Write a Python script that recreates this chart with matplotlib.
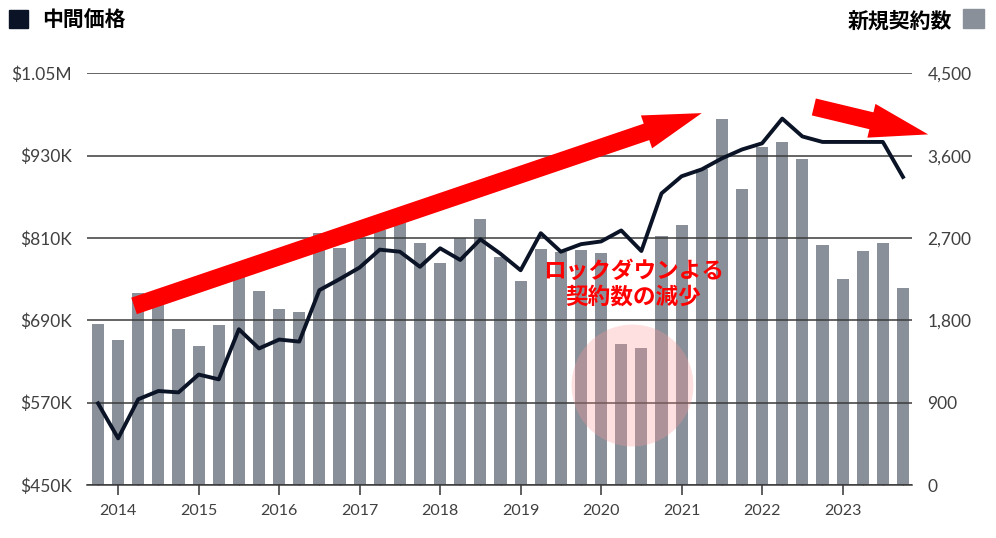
import matplotlib
matplotlib.use("Agg")
import matplotlib.pyplot as plt
from matplotlib.patches import Rectangle

# ── Data (quarterly, 2013Q4 .. 2023Q4) ───────────────────────────────────────
quarters = ["2013Q4"] + [f"{y}Q{q}" for y in range(2014, 2024) for q in range(1, 5)]

contracts = [1760, 1580, 2095, 2050, 1705, 1520, 1745, 2280, 2120, 1920,
             1895, 2755, 2595, 2700, 2790, 2860, 2645, 2430, 2705, 2910,
             2495, 2230, 2575, 2550, 2565, 2540, 1540, 1495, 2720, 2845,
             3450, 4005, 3235, 3690, 3745, 3560, 2620, 2250, 2555, 2645,
             2150]

median_price = [569, 518, 575, 587, 585, 611, 604, 677, 649, 662,
                659, 734, 750, 767, 793, 790, 768, 795, 778, 808,
                787, 763, 817, 790, 801, 805, 821, 791, 875, 900,
                910, 926, 939, 948, 984, 958, 950, 950, 950, 950,
                899]  # thousands of dollars

year_labels = [str(y) for y in range(2014, 2024)]
price_ticks = [450, 570, 690, 810, 930, 1050]
price_tick_labels = ["$450K", "$570K", "$690K", "$810K", "$930K", "$1.05M"]
count_ticks = [0, 900, 1800, 2700, 3600, 4500]
count_tick_labels = ["0", "900", "1,800", "2,700", "3,600", "4,500"]

C_LINE = "#0b1426"
C_BAR = "#8a9099"
C_RED = "#ff0000"
C_TXT = "#404040"
JP = ["Noto Sans CJK JP", "DejaVu Sans"]

plt.rcParams["font.family"] = ["Lato", "DejaVu Sans"]

fig = plt.figure(figsize=(9.96, 5.38), dpi=100)
ax_bar = fig.add_axes([0.0873, 0.0985, 0.8284, 0.7652])
ax = ax_bar.twinx()
ax.set_zorder(ax_bar.get_zorder() + 1)
ax.patch.set_visible(False)

x = list(range(len(quarters)))

# bars: new contracts (right axis)
ax_bar.bar(x, contracts, width=0.6, color=C_BAR, zorder=2)
ax_bar.set_ylim(0, 4500)
ax_bar.set_xlim(-0.55, len(quarters) - 0.55)

# line: median price (left axis)
ax.plot(x, median_price, color=C_LINE, linewidth=2.8, zorder=4,
        solid_joinstyle="round")
ax.set_ylim(450, 1050)

# swap sides so price is on the left, contracts on the right
ax.yaxis.tick_left()
ax_bar.yaxis.tick_right()
ax.set_yticks(price_ticks, price_tick_labels)
ax_bar.set_yticks(count_ticks, count_tick_labels)
ax.tick_params(axis="y", length=0, pad=11, labelsize=12.5, labelcolor=C_TXT)
ax_bar.tick_params(axis="y", length=0, pad=11, labelsize=12.5, labelcolor=C_TXT)

ax.grid(True, axis="y", color="#3a3a3a", linewidth=1.1, zorder=3)
ax.set_axisbelow(True)

# x axis: year ticks + one minor tick per quarter
year_pos = [quarters.index(f"{y}Q1") for y in range(2014, 2024)]
ax_bar.set_xticks(year_pos, year_labels)
ax_bar.set_xticks(x, minor=True)
ax_bar.tick_params(axis="x", which="major", direction="inout", length=14,
                   width=1.1, color="#333333", pad=7, labelsize=11.5,
                   labelcolor=C_TXT)
ax_bar.tick_params(axis="x", which="minor", direction="in", length=7,
                   width=1.0, color="#333333")
ax.tick_params(axis="x", which="both", length=0, labelbottom=False)

for a in (ax, ax_bar):
    for side in ("top", "left", "right", "bottom"):
        a.spines[side].set_visible(False)
ax_bar.spines["bottom"].set_visible(True)
ax_bar.spines["bottom"].set_color("#3a3a3a")
ax_bar.spines["bottom"].set_linewidth(1.1)

# lockdown highlight
ax.scatter([26.55], [596], s=7700, color="#ff9a9a", alpha=0.3,
           linewidths=0, zorder=5, clip_on=False)
ax.text(26.6, 742, "ロックダウンよる\n契約数の減少", color=C_RED, fontsize=16.3,
        fontweight="bold", family=JP, ha="center", va="center",
        linespacing=1.15, zorder=7)

# trend arrows
arrow_style = "simple,head_length=42,head_width=25,tail_width=12.5"
ax.annotate("", xy=(30.0, 992), xytext=(1.79, 711),
            arrowprops=dict(arrowstyle=arrow_style, color=C_RED, lw=0,
                            mutation_scale=1, shrinkA=0, shrinkB=0),
            annotation_clip=False, zorder=6)
ax.annotate("", xy=(41.25, 961), xytext=(35.57, 1001),
            arrowprops=dict(arrowstyle=arrow_style, color=C_RED, lw=0,
                            mutation_scale=1, shrinkA=0, shrinkB=0),
            annotation_clip=False, zorder=6)

# legend-like headers
fig.add_artist(Rectangle((0.009, 0.948), 0.019, 0.0335,
                         transform=fig.transFigure, color=C_LINE))
fig.text(0.042, 0.961, "中間価格", family=JP, fontsize=15, fontweight="bold",
         ha="left", va="center", color="black")
fig.add_artist(Rectangle((0.967, 0.948), 0.021, 0.0353,
                         transform=fig.transFigure, color=C_BAR))
fig.text(0.956, 0.961, "新規契約数", family=JP, fontsize=15, fontweight="bold",
         ha="right", va="center", color="black")

fig.savefig("out.png", dpi=100)
